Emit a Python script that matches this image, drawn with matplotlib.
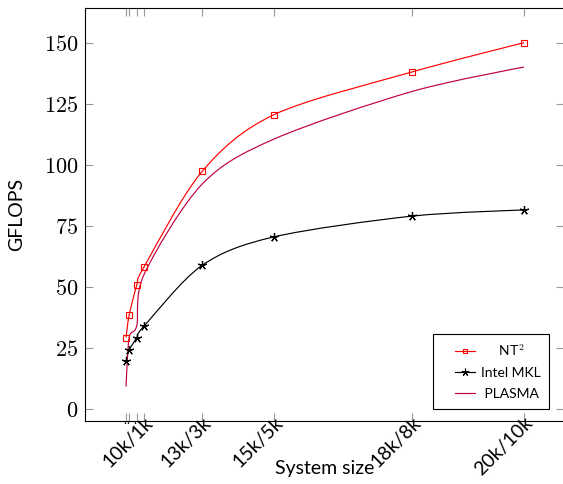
import numpy as np
import matplotlib
matplotlib.use('Agg')
import matplotlib.pyplot as plt
from matplotlib.path import Path
from matplotlib.patches import PathPatch
from matplotlib.lines import Line2D
from matplotlib.legend_handler import HandlerLine2D
import matplotlib.transforms as mtransforms

# ---------------- data ----------------
x_pos = [1.0, 2.5, 6.35, 10, 39, 75, 144, 200]
tick_labels = ['.', '.', '.', '10k/1k', '13k/3k', '15k/5k', '18k/8k', '20k/10k']
nt2 = [29.1, 38.2, 50.6, 58.1, 97.2, 120.5, 138.0, 150.0]
mkl = [19.4, 23.9, 29.1, 33.8, 58.7, 70.4, 78.9, 81.4]
plasma = [9.0, 29.0, 34.0, 55.0, 92.0, 110.5, 130.0, 140.0]
y_ticks = [0, 25, 50, 75, 100, 125, 150]
series_names = ['NT$^\\mathsf{2}$', 'Intel MKL', 'PLASMA']

plt.rcParams['font.family'] = ['Lato', 'DejaVu Sans']
plt.rcParams['mathtext.fontset'] = 'cm'


def smooth_path(x, y, tension=0.55):
    pts = np.column_stack([x, y]).astype(float)
    n = len(pts)
    k = tension * 0.2775
    verts = [pts[0]]
    codes = [Path.MOVETO]
    for i in range(n - 1):
        p0, p1 = pts[i], pts[i + 1]
        c1 = p0 if i == 0 else p0 + k * (pts[i + 1] - pts[i - 1])
        c2 = p1 if i + 1 == n - 1 else p1 - k * (pts[i + 2] - pts[i])
        verts += [c1, c2, p1]
        codes += [Path.CURVE4] * 3
    return Path(verts, codes)


W, H = 563, 484
fig = plt.figure(figsize=(W / 100, H / 100), dpi=100)
ax = fig.add_axes([85.3 / W, 1 - 421 / H, (563.6 - 85.3) / W, (421 - 8.3) / H])

red = (1, 0, 0)
purple = (0.75, 0, 0.25)
lw = 0.85

for ys, col in [(nt2, red), (mkl, 'black'), (plasma, purple)]:
    ax.add_patch(PathPatch(smooth_path(x_pos, ys), fill=False, edgecolor=col, lw=lw))

ax.plot(x_pos, nt2, ls='none', marker='s', ms=4.3, mfc='none', mec=red, mew=0.8)
ax.plot(x_pos, mkl, ls='none', marker=(5, 2, 0), ms=6.5, mec='black', mew=0.9)

ax.set_xlim(-19.4, 219.8)
ax.set_ylim(-5.1, 164.1)

ax.set_yticks(y_ticks, labels=[f'${v}$' for v in y_ticks], fontsize=16)
ax.set_xticks(x_pos, labels=tick_labels, fontsize=14)

ax.tick_params(direction='in', length=5.8, width=0.8, color='0.6',
               top=True, right=True)
ax.tick_params(axis='y', pad=5)
ax.tick_params(axis='x', pad=0)

for i, lab in enumerate(ax.get_xticklabels()):
    if tick_labels[i] == '.':
        lab.set_rotation(0)
        lab.set_fontsize(9)
        lab.set_ha('center')
        lab.set_va('baseline')
        off = mtransforms.ScaledTranslation(-1.5 / 100, -3.5 / 100, fig.dpi_scale_trans)
    else:
        lab.set_rotation(45)
        lab.set_rotation_mode('anchor')
        lab.set_ha('right')
        lab.set_va('top')
        off = mtransforms.ScaledTranslation(0, 7 / 100, fig.dpi_scale_trans)
    lab.set_transform(lab.get_transform() + off)

for s in ax.spines.values():
    s.set_linewidth(0.8)
    s.set_color('black')

ax.set_xlabel('System size', fontsize=14)
ax.xaxis.set_label_coords(0.5, -0.095)
ax.set_ylabel('GFLOPS', fontsize=14)
ax.yaxis.set_label_coords(-0.125, 0.5)

handles = [
    Line2D([], [], color=red, lw=lw, marker='s', ms=3.2, mfc='none', mec=red, mew=0.8),
    Line2D([], [], color='black', lw=lw, marker=(5, 2, 0), ms=5.5, mew=0.8),
    Line2D([], [], color=purple, lw=lw),
]
labels = ['     ' + series_names[0], series_names[1], ' ' + series_names[2]]
leg = ax.legend(handles, labels, loc='lower right', bbox_to_anchor=(0.97, 0.03),
                borderaxespad=0, fontsize=10, frameon=True, fancybox=False,
                framealpha=1, edgecolor='black', borderpad=0.6, labelspacing=0.66,
                handlelength=2.4, handletextpad=0.45,
                handler_map={Line2D: HandlerLine2D(xpad=0.95)})
leg.get_frame().set_linewidth(0.8)

fig.savefig('out.png', dpi=100)
